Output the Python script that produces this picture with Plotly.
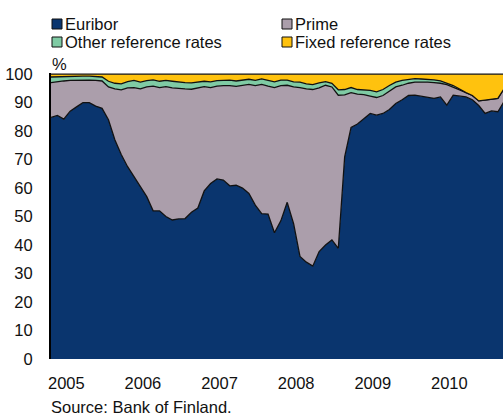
import plotly.graph_objects as go

# Months since Jan 2005
months = list(range(72))

euribor = [84.8, 85.5, 84.2, 87.0, 88.5, 90.0, 90.0, 88.8, 88.0, 84.0,
           77.0, 71.8, 67.5, 64.0, 60.5, 57.0, 52.0, 52.0, 50.0, 48.8,
           49.2, 49.3, 51.5, 53.0, 59.0, 61.6, 63.2, 62.8, 60.8, 61.0,
           60.0, 58.1, 54.0, 51.0, 50.9, 44.3, 48.5, 55.0, 47.5, 36.0,
           34.0, 32.6, 37.7, 40.0, 41.8, 38.8, 71.0, 81.3, 82.5, 84.5,
           86.2, 85.6, 86.2, 87.6, 89.7, 91.0, 92.5, 92.6, 92.3, 91.8,
           91.5, 92.0, 89.1, 92.6, 92.3, 92.0, 91.0, 89.0, 86.2, 87.1,
           86.8, 90.5]

# cumulative top of Euribor + Prime
prime_top = [97.0, 97.4, 97.6, 97.8, 97.9, 97.9, 97.9, 97.8, 97.6, 95.5,
             94.8, 94.5, 95.2, 95.3, 94.8, 95.5, 95.8, 95.3, 95.6, 95.2,
             94.9, 94.8, 94.7, 95.2, 95.6, 95.3, 95.8, 96.0, 96.0, 95.7,
             96.0, 96.4, 96.0, 96.4, 95.8, 95.3, 96.0, 96.1, 95.5, 95.3,
             94.8, 94.6, 95.2, 96.1, 95.5, 92.6, 92.7, 93.5, 93.0, 92.8,
             92.3, 91.8, 92.5, 94.0, 95.5, 96.1, 96.8, 97.2, 97.3, 97.2,
             97.0, 96.8, 96.3, 95.5, 94.5, 93.5, 92.5, 90.6, 90.9, 91.3,
             91.5, 95.0]

# cumulative top of Euribor + Prime + Other
other_top = [99.0, 99.1, 99.2, 99.3, 99.3, 99.3, 99.3, 99.2, 99.0, 97.5,
             96.8, 96.6, 97.4, 97.8, 97.2, 97.7, 98.0, 97.5, 97.8, 97.5,
             97.2, 97.0, 96.9, 97.3, 97.5, 97.3, 97.7, 97.8, 97.9, 97.6,
             97.8, 98.2, 97.8, 98.3, 97.8, 97.3, 97.9, 97.9, 97.3, 97.2,
             96.6, 96.3, 96.9, 97.4, 96.8, 94.5, 94.6, 95.3, 94.6, 94.5,
             94.3, 93.8, 94.6, 96.0, 97.2, 97.8, 98.2, 98.4, 98.3, 98.2,
             98.0, 97.6, 96.8, 96.0, 94.8, 93.5, 92.5, 90.6, 90.9, 91.3,
             91.5, 95.0]

prime = [round(p - e, 2) for p, e in zip(prime_top, euribor)]
other = [round(o - p, 2) for o, p in zip(other_top, prime_top)]
fixed = [round(100 - o, 2) for o in other_top]

series_names = ["Euribor", "Prime", "Other reference rates", "Fixed reference rates"]
series_values = [euribor, prime, other, fixed]
colors = ["#0A356E", "#AB9EAB", "#7FCBA4", "#FFC20E"]

year_labels = ["2005", "2006", "2007", "2008", "2009", "2010"]
year_starts = [0, 12, 24, 36, 48, 60]
y_ticks = list(range(0, 101, 10))

FONT = "Liberation Sans, Arial, sans-serif"
FS = 16.5

fig = go.Figure()
for name, vals, col in zip(series_names, series_values, colors):
    fig.add_trace(go.Scatter(
        x=months, y=vals, name=name, stackgroup="one", mode="lines",
        line=dict(color="#111111", width=1.3), fillcolor=col,
        showlegend=False, hoverinfo="skip"))

W, H = 503, 417
ml, mr, mt, mb = 51, 0, 73, 58
pw, ph = W - ml - mr, H - mt - mb
XMAX = 70.8

def px(x):  # window pixel -> paper x
    return (x - ml) / pw

def py(y):  # window pixel -> paper y
    return (H - mb - y) / ph

# manual legend (two columns)
legend_pos = [(52, 24), (282, 24), (52, 42), (282, 42)]
shapes = []
annotations = []
for (lx, ly), name, col in zip(legend_pos, series_names, colors):
    shapes.append(dict(type="rect", xref="paper", yref="paper",
                       x0=px(lx), x1=px(lx + 10), y0=py(ly - 5), y1=py(ly + 5),
                       fillcolor=col, line=dict(color="#111111", width=1)))
    annotations.append(dict(xref="paper", yref="paper", x=px(lx + 11), y=py(ly),
                            xanchor="left", yanchor="middle", text=name,
                            showarrow=False, font=dict(size=FS, color="#111111", family=FONT)))

annotations.append(dict(xref="paper", yref="paper", x=px(50), y=py(64),
                        xanchor="left", yanchor="middle", text="%", showarrow=False,
                        font=dict(size=FS, color="#111111", family=FONT)))
annotations.append(dict(xref="paper", yref="paper", x=px(49), y=py(407),
                        xanchor="left", yanchor="middle", text="Source: Bank of Finland.",
                        showarrow=False, font=dict(size=FS, color="#111111", family=FONT)))

fig.update_layout(
    width=W, height=H,
    margin=dict(l=ml, r=mr, t=mt, b=mb),
    paper_bgcolor="white", plot_bgcolor="white",
    showlegend=False,
    shapes=shapes, annotations=annotations,
    font=dict(family=FONT, size=FS, color="#111111"),
    xaxis=dict(range=[0, XMAX], tickmode="array",
               tickvals=[s + 2.4 for s in year_starts], ticktext=year_labels,
               ticks="", showgrid=False, zeroline=False, showline=False,
               ticklabelstandoff=12, tickfont=dict(size=FS, family=FONT, color="#111111")),
    xaxis2=dict(range=[0, XMAX], overlaying="x", anchor="y", side="bottom",
                tickmode="array", tickvals=year_starts, showticklabels=False,
                ticks="inside", ticklen=5, tickwidth=1, tickcolor="#b8b8c0",
                minor=dict(tickmode="linear", tick0=0, dtick=1, ticks="inside",
                           ticklen=2.5, tickwidth=1, tickcolor="#a8a8b4"),
                showline=True, linecolor="#999999", linewidth=1.5,
                showgrid=False, zeroline=False),
    yaxis=dict(range=[0, 100.4], tickmode="array", tickvals=y_ticks,
               ticks="", showgrid=False, zeroline=False,
               showline=True, linecolor="#000000", linewidth=2,
               ticklabelstandoff=13, tickfont=dict(size=FS, family=FONT, color="#111111")),
)

fig.write_html(
    "out.html",
    config={"displayModeBar": False, "staticPlot": True},
    post_script="document.body.style.margin='0';"
                "document.documentElement.style.overflow='hidden';"
                "document.body.style.overflow='hidden';")
